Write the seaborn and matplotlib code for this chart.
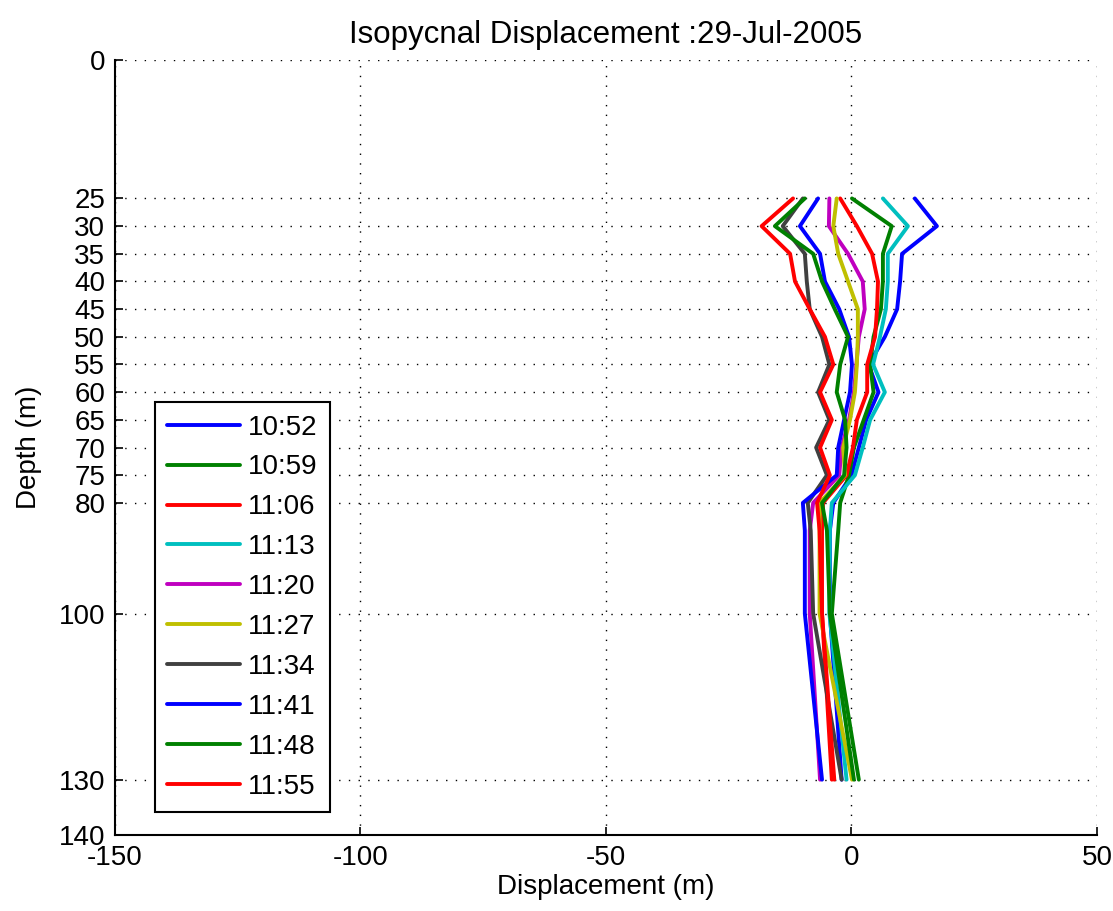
import matplotlib
matplotlib.use("Agg")
import matplotlib.pyplot as plt
import numpy as np
import pandas as pd
import seaborn as sns

# Sample depths (m)
depths = [25, 30, 35, 40, 45, 50, 55, 60, 65, 70, 75, 80, 85, 100, 130]

# Isopycnal displacement (m) for each cast time
times = ["10:52", "10:59", "11:06", "11:13", "11:20",
         "11:27", "11:34", "11:41", "11:48", "11:55"]

disp_1052 = [12.9, 17.4, 10.3, 9.9, 9.3, 6.8, 3.5, 5.5, 3.0, 1.5, 0.0, -3.7, -4.4, -4.4, -2.0]
disp_1059 = [0.1, 8.2, 6.4, 6.4, 6.0, 4.5, 3.8, 4.5, 2.5, 0.5, -0.5, -2.3, -2.7, -4.0, 1.5]
disp_1106 = [-2.3, 1.1, 4.2, 5.4, 5.2, 4.8, 3.2, 3.2, 1.1, 0.3, -1.0, -5.8, -6.0, -6.0, -4.0]
disp_1113 = [6.4, 11.5, 7.4, 7.4, 7.0, 5.8, 4.4, 6.8, 3.8, 2.3, 0.7, -4.0, -4.4, -4.5, -1.0]
disp_1120 = [-4.5, -4.6, -0.7, 2.3, 2.7, 1.5, 1.0, 0.5, -0.5, -2.0, -2.5, -7.8, -8.5, -8.5, -6.4]
disp_1127 = [-3.0, -3.7, -2.7, -0.7, 1.3, 1.3, 1.1, 0.7, -0.3, -1.7, -1.3, -6.5, -6.5, -6.5, 0.1]
disp_1134 = [-9.9, -14.0, -9.5, -9.1, -8.5, -6.0, -4.5, -6.8, -4.5, -7.2, -5.0, -8.9, -8.3, -7.8, -2.0]
disp_1141 = [-6.8, -10.5, -6.4, -5.4, -2.5, -0.5, 0.1, -0.3, -1.5, -2.7, -3.0, -9.9, -9.5, -9.5, -6.0]
disp_1148 = [-9.5, -15.6, -7.8, -6.0, -3.4, -0.7, -2.3, -3.0, -1.3, -1.0, -1.5, -6.0, -5.0, -4.4, 0.5]
disp_1155 = [-11.9, -18.3, -12.5, -11.5, -8.5, -5.4, -3.7, -6.4, -4.0, -6.4, -4.4, -7.0, -6.5, -6.0, -3.5]

series = [disp_1052, disp_1059, disp_1106, disp_1113, disp_1120,
          disp_1127, disp_1134, disp_1141, disp_1148, disp_1155]

colors = [(0, 0, 1), (0, 0.5, 0), (1, 0, 0), (0, 0.75, 0.75), (0.75, 0, 0.75),
          (0.75, 0.75, 0), (0.25, 0.25, 0.25), (0, 0, 1), (0, 0.5, 0), (1, 0, 0)]

ytick_vals = [0, 25, 30, 35, 40, 45, 50, 55, 60, 65, 70, 75, 80, 100, 130, 140]
xtick_vals = [-150, -100, -50, 0, 50]

df = pd.DataFrame({
    "Time": np.repeat(times, len(depths)),
    "Depth": np.tile(depths, len(times)),
    "Displacement": np.concatenate(series),
})

sns.set_theme(style="ticks")
plt.rcParams["font.family"] = ["Liberation Sans Narrow", "Liberation Sans", "DejaVu Sans"]
plt.rcParams["font.size"] = 20
plt.rcParams["text.color"] = "black"
plt.rcParams["axes.labelcolor"] = "black"
plt.rcParams["xtick.color"] = "black"
plt.rcParams["ytick.color"] = "black"

fig = plt.figure(figsize=(11.13, 9.11), dpi=100)
ax = fig.add_axes([0.1033, 0.0834, 0.8823, 0.8507])

sns.lineplot(data=df, x="Displacement", y="Depth", hue="Time", hue_order=times,
             palette=colors, sort=False, estimator=None, orient="y",
             linewidth=2.8, ax=ax)

ax.set_xlim(-150, 50)
ax.set_ylim(140, 0)
ax.set_xticks(xtick_vals)
ax.set_yticks(ytick_vals)
ax.set_xticklabels([str(v) for v in xtick_vals])
ax.set_yticklabels([str(v) for v in ytick_vals])

ax.grid(True, color="black", linestyle=(0, (1, 6)), linewidth=1.0)
ax.tick_params(direction="in", length=6, width=1.2, colors="black",
               labelcolor="black", labelsize=20, pad=7)

for side in ("top", "right"):
    ax.spines[side].set_visible(False)
for side in ("left", "bottom"):
    ax.spines[side].set_color("black")
    ax.spines[side].set_linewidth(1.5)

ax.set_xlabel("Displacement (m)", fontsize=20, labelpad=2, color="black")
ax.set_ylabel("Depth (m)", fontsize=20, labelpad=12, color="black")
ax.set_title("Isopycnal Displacement :29-Jul-2005", fontsize=22.5, pad=12,
             color="black")

sns.move_legend(ax, loc="lower left", bbox_to_anchor=(0.0407, 0.0297),
                borderaxespad=0, title=None, frameon=True, fancybox=False,
                edgecolor="black", framealpha=1, fontsize=20,
                handlelength=2.6, handletextpad=0.3, labelspacing=0.5,
                borderpad=0.45)
leg = ax.get_legend()
leg.get_frame().set_linewidth(1.5)
for t in leg.get_texts():
    t.set_color("black")
for h in leg.legend_handles:
    h.set_linewidth(2.8)

fig.savefig("out.png", dpi=100, facecolor="white")
